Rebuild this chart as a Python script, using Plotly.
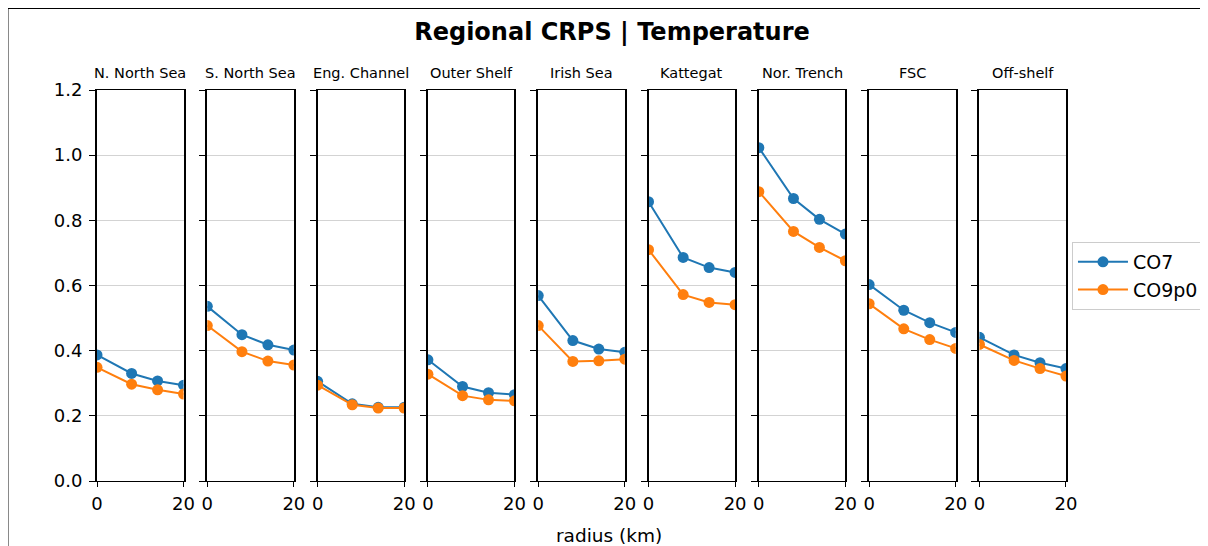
import plotly.graph_objects as go

radius = [0, 8, 14, 20]
regions = ["N. North Sea", "S. North Sea", "Eng. Channel", "Outer Shelf", "Irish Sea",
           "Kattegat", "Nor. Trench", "FSC", "Off-shelf"]
co7 = [
    [0.387, 0.330, 0.307, 0.294],
    [0.536, 0.449, 0.418, 0.402],
    [0.306, 0.237, 0.226, 0.226],
    [0.372, 0.290, 0.271, 0.265],
    [0.569, 0.431, 0.405, 0.395],
    [0.857, 0.686, 0.655, 0.640],
    [1.023, 0.867, 0.803, 0.758],
    [0.603, 0.524, 0.486, 0.456],
    [0.441, 0.387, 0.363, 0.345],
]
co9p0 = [
    [0.349, 0.297, 0.280, 0.267],
    [0.477, 0.397, 0.368, 0.356],
    [0.294, 0.234, 0.224, 0.224],
    [0.328, 0.262, 0.249, 0.246],
    [0.477, 0.367, 0.369, 0.374],
    [0.710, 0.572, 0.548, 0.541],
    [0.888, 0.766, 0.717, 0.676],
    [0.544, 0.467, 0.434, 0.407],
    [0.419, 0.370, 0.345, 0.322],
]
series_names = ["CO7", "CO9p0"]
series_colors = ["#1f77b4", "#ff7f0e"]
y_ticks = [0.0, 0.2, 0.4, 0.6, 0.8, 1.0, 1.2]
x_ticks = [0, 20]

# page offset of the figure inside the browser window
OFF = 8
W, H = 1208, 546
PL, PR, PT, PB = 97 - OFF, 1071 - OFF, 90 - OFF, 481 - OFF   # plot area in figure px
L, R, T, B = PL, W - PR, PT, H - PB
PW = PR - PL
PH = PB - PT

FONT = "DejaVu Sans"


def px(xs):
    return (xs - OFF - PL) / PW


def py(ys):
    return (PB - (ys - OFF)) / PH


fig = go.Figure()
n = len(regions)
pw = 87.0
step = (PW - pw) / (n - 1)
layout = {}
annotations = []
for i, reg in enumerate(regions):
    left = i * step
    right = left + pw
    d0 = max(0.0, left / PW)
    d1 = min(1.0, right / PW)
    xa = "xaxis" if i == 0 else f"xaxis{i+1}"
    ya = "yaxis" if i == 0 else f"yaxis{i+1}"
    xr = "x" if i == 0 else f"x{i+1}"
    yr = "y" if i == 0 else f"y{i+1}"
    for s, (name, vals) in enumerate(zip(series_names, [co7, co9p0])):
        fig.add_trace(go.Scatter(
            x=radius, y=vals[i], mode="lines+markers", name=name,
            line=dict(color=series_colors[s], width=2),
            marker=dict(color=series_colors[s], size=11),
            xaxis=xr, yaxis=yr, showlegend=(i == 0), legendgroup=name,
            cliponaxis=True,
        ))
    layout[xa] = dict(domain=[d0, d1], anchor=yr, range=[0, 20],
                      tickvals=x_ticks, ticktext=[str(v) for v in x_ticks],
                      showgrid=False, zeroline=False, showline=True, mirror=True,
                      linecolor="black", linewidth=1.3, ticks="outside", ticklen=5,
                      tickcolor="black", tickwidth=1.2,
                      tickfont=dict(family=FONT, size=18, color="black"),
                      ticklabelstandoff=1)
    layout[ya] = dict(domain=[0, 1], anchor=xr, range=[0, 1.2],
                      tickvals=y_ticks, ticktext=[f"{v:.1f}" for v in y_ticks],
                      showticklabels=(i == 0),
                      showgrid=True, gridcolor="#d3d3d3", gridwidth=1,
                      zeroline=False, showline=True, mirror=True,
                      linecolor="black", linewidth=2, ticks="outside", ticklen=6,
                      tickcolor="black", tickwidth=1.2,
                      tickfont=dict(family=FONT, size=18, color="black"),
                      ticklabelstandoff=3)
    annotations.append(dict(text=reg, x=(d0 + d1) / 2, xref="paper",
                            y=py(73), yref="paper", showarrow=False,
                            xanchor="center", yanchor="middle",
                            font=dict(family=FONT, size=14.5, color="black")))

annotations.append(dict(text="radius (km)", x=px(612), xref="paper",
                        y=py(535), yref="paper", showarrow=False,
                        xanchor="center", yanchor="middle",
                        font=dict(family=FONT, size=18.5, color="black")))

fig.update_layout(
    width=W, height=H,
    margin=dict(l=L, r=R, t=T, b=B),
    paper_bgcolor="white", plot_bgcolor="white",
    title=dict(text="<b>Regional CRPS | Temperature</b>", x=(612 - OFF) / W,
               xanchor="center", y=1 - (32 - OFF) / H, yanchor="middle",
               font=dict(family=FONT, size=24, color="black")),
    legend=dict(x=px(1077), xanchor="left", y=py(242), yanchor="top",
                bordercolor="#cccccc", borderwidth=1, bgcolor="white",
                font=dict(family=FONT, size=19, color="black"),
                itemwidth=50, tracegroupgap=0),
    annotations=annotations,
    shapes=[dict(type="rect", xref="paper", yref="paper",
                 x0=px(OFF - 1), x1=px(W + OFF + 10),
                 y0=py(H + OFF + 10), y1=py(OFF),
                 line=dict(color="black", width=2), layer="above")],
    showlegend=True,
    **layout,
)

fig.write_html("out.html")
